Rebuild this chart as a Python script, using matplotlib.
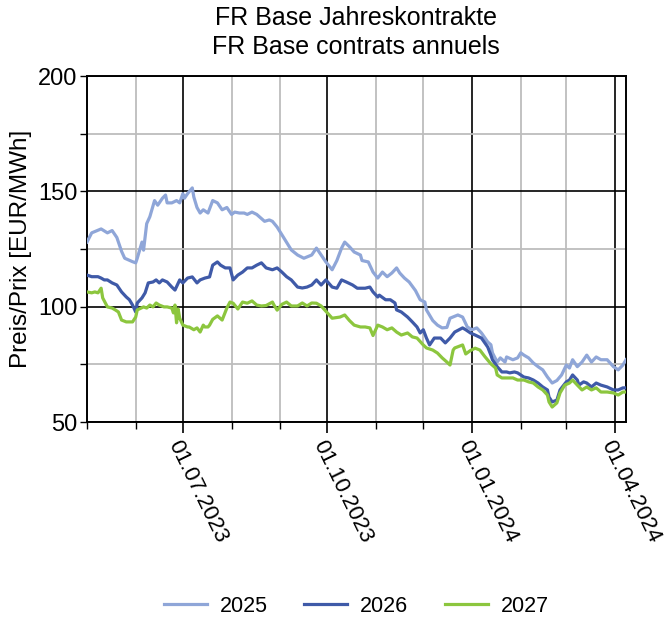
import matplotlib
matplotlib.use("Agg")
import matplotlib.pyplot as plt
import matplotlib.dates as mdates
import numpy as np
import datetime as dt

plt.rcParams['font.family'] = ['Liberation Sans', 'DejaVu Sans']

# --- data (dates, EUR/MWh) ---
d2025 = ["2023-05-01", "2023-05-04", "2023-05-10", "2023-05-14", "2023-05-17", "2023-05-20",
         "2023-05-23", "2023-05-25", "2023-05-30", "2023-06-01", "2023-06-02", "2023-06-05",
         "2023-06-06", "2023-06-08", "2023-06-10", "2023-06-13", "2023-06-15", "2023-06-18",
         "2023-06-20", "2023-06-21", "2023-06-24", "2023-06-27", "2023-06-29", "2023-07-01",
         "2023-07-02", "2023-07-04", "2023-07-07", "2023-07-08", "2023-07-10", "2023-07-12",
         "2023-07-14", "2023-07-17", "2023-07-20", "2023-07-23", "2023-07-26", "2023-07-29",
         "2023-08-01", "2023-08-03", "2023-08-06", "2023-08-09", "2023-08-11", "2023-08-14",
         "2023-08-17", "2023-08-22", "2023-08-25", "2023-08-27", "2023-08-30", "2023-09-04",
         "2023-09-08", "2023-09-12", "2023-09-16", "2023-09-21", "2023-09-24", "2023-09-27",
         "2023-09-30", "2023-10-04", "2023-10-07", "2023-10-10", "2023-10-12", "2023-10-15",
         "2023-10-18", "2023-10-22", "2023-10-23", "2023-10-27", "2023-10-30", "2023-11-02",
         "2023-11-05", "2023-11-08", "2023-11-11", "2023-11-14", "2023-11-16", "2023-11-19",
         "2023-11-22", "2023-11-26", "2023-11-29", "2023-12-02", "2023-12-03", "2023-12-07",
         "2023-12-10", "2023-12-13", "2023-12-16", "2023-12-18", "2023-12-23", "2023-12-26",
         "2023-12-29", "2024-01-01", "2024-01-04", "2024-01-07", "2024-01-11", "2024-01-13",
         "2024-01-14", "2024-01-17", "2024-01-19", "2024-01-22", "2024-01-23", "2024-01-27",
         "2024-01-30", "2024-02-01", "2024-02-03", "2024-02-06", "2024-02-09", "2024-02-12",
         "2024-02-15", "2024-02-18", "2024-02-21", "2024-02-24", "2024-02-27", "2024-03-01",
         "2024-03-03", "2024-03-05", "2024-03-08", "2024-03-11", "2024-03-14", "2024-03-17",
         "2024-03-20", "2024-03-23", "2024-03-27", "2024-03-31", "2024-04-03", "2024-04-06",
         "2024-04-08"]
v2025 = [128, 132, 133.7, 132, 133, 130,
         124, 121, 119.5, 119, 121, 128,
         124.5, 136, 139, 146, 144, 147,
         148.4, 145, 145, 146, 145, 149,
         147, 149, 151.5, 147.5, 143, 140.6,
         142, 140.6, 146, 145, 142, 143,
         140, 141, 140.6, 140.6, 140, 141,
         140, 137, 137.6, 137, 134.5, 129,
         124.6, 122.4, 121, 122.4, 125.4, 122.4,
         119.4, 116, 120, 125.4, 128, 126,
         123.7, 122.4, 120, 119.4, 115, 112.4,
         115, 113, 114.6, 116.8, 114.6, 112.4,
         110.7, 107, 103, 102, 98.6, 94,
         92, 90.8, 91, 95, 96.4, 95.5,
         91.2, 90, 90.8, 88.6, 84.7, 83.5,
         80, 76, 77.8, 76, 78.2, 77,
         77.8, 80, 79, 77.8, 75.6, 74,
         72.6, 69.5, 66.9, 68, 70.4, 74.7,
         73.4, 77, 74, 76, 79, 76,
         78.2, 77, 77, 74, 72.6, 74.7,
         77]

d2026 = ["2023-05-01", "2023-05-04", "2023-05-08", "2023-05-10", "2023-05-12", "2023-05-14",
         "2023-05-17", "2023-05-20", "2023-05-23", "2023-05-26", "2023-05-28", "2023-05-30",
         "2023-06-01", "2023-06-02", "2023-06-05", "2023-06-07", "2023-06-09", "2023-06-12",
         "2023-06-14", "2023-06-16", "2023-06-18", "2023-06-21", "2023-06-24", "2023-06-26",
         "2023-06-29", "2023-07-01", "2023-07-04", "2023-07-07", "2023-07-10", "2023-07-12",
         "2023-07-15", "2023-07-18", "2023-07-20", "2023-07-23", "2023-07-25", "2023-07-28",
         "2023-07-31", "2023-08-02", "2023-08-05", "2023-08-08", "2023-08-11", "2023-08-14",
         "2023-08-17", "2023-08-20", "2023-08-23", "2023-08-27", "2023-08-30", "2023-09-02",
         "2023-09-05", "2023-09-08", "2023-09-12", "2023-09-15", "2023-09-18", "2023-09-21",
         "2023-09-24", "2023-09-27", "2023-09-30", "2023-10-04", "2023-10-07", "2023-10-10",
         "2023-10-13", "2023-10-17", "2023-10-20", "2023-10-22", "2023-10-25", "2023-10-28",
         "2023-10-30", "2023-11-02", "2023-11-03", "2023-11-07", "2023-11-10", "2023-11-13",
         "2023-11-14", "2023-11-17", "2023-11-21", "2023-11-24", "2023-11-27", "2023-11-29",
         "2023-12-01", "2023-12-03", "2023-12-05", "2023-12-08", "2023-12-12", "2023-12-15",
         "2023-12-18", "2023-12-21", "2023-12-26", "2023-12-28", "2023-12-31", "2024-01-03",
         "2024-01-07", "2024-01-11", "2024-01-13", "2024-01-14", "2024-01-17", "2024-01-20",
         "2024-01-23", "2024-01-25", "2024-01-28", "2024-01-30", "2024-02-03", "2024-02-06",
         "2024-02-09", "2024-02-12", "2024-02-15", "2024-02-18", "2024-02-19", "2024-02-21",
         "2024-02-24", "2024-02-26", "2024-02-27", "2024-03-01", "2024-03-03", "2024-03-05",
         "2024-03-08", "2024-03-09", "2024-03-12", "2024-03-14", "2024-03-17", "2024-03-20",
         "2024-03-23", "2024-03-27", "2024-03-31", "2024-04-03", "2024-04-06", "2024-04-08"]
v2026 = [113.7, 113, 113, 112.4, 111.6, 111.6,
         110.3, 109.4, 106.4, 104.2, 103, 100.7,
         97.7, 101.6, 103.8, 106, 110.3, 110.7,
         111.6, 110.3, 111.6, 110.7, 108.5, 107.2,
         111.6, 110.3, 112.4, 112.9, 110.3, 111.6,
         112.4, 112.9, 118, 119.4, 118, 116.8,
         116.8, 111.6, 113.7, 115, 116.8, 116.8,
         118, 119, 116.8, 116, 116.8, 115,
         113, 111.6, 108.5, 108.1, 108.5, 109.4,
         111.6, 109.4, 111.6, 108.5, 108, 111.6,
         110.7, 109.4, 108, 108, 108, 108.5,
         106.4, 104.2, 105, 103, 103, 101.6,
         98.6, 97.7, 95.5, 93.4, 91.2, 88.6,
         90, 86.4, 83.4, 86.4, 86.4, 84.3,
         86.4, 89, 90.8, 90, 88.6, 87.7,
         86.4, 82.5, 79, 77, 74, 71.7,
         71.7, 71.3, 71.7, 71.3, 69.5, 69.1,
         68.2, 66.9, 65.2, 63.9, 60.8, 58.7,
         59.5, 63.9, 64.8, 67.4, 68.2, 70.4,
         68.2, 66, 67.4, 66.9, 65.2, 66.9,
         66, 65.2, 63.9, 63.9, 64.8, 64.8]

d2027 = ["2023-05-01", "2023-05-04", "2023-05-06", "2023-05-08", "2023-05-10", "2023-05-11",
         "2023-05-14", "2023-05-17", "2023-05-19", "2023-05-21", "2023-05-23", "2023-05-26",
         "2023-05-30", "2023-06-01", "2023-06-02", "2023-06-06", "2023-06-08", "2023-06-10",
         "2023-06-12", "2023-06-14", "2023-06-16", "2023-06-19", "2023-06-21", "2023-06-24",
         "2023-06-25", "2023-06-26", "2023-06-27", "2023-06-28", "2023-06-29", "2023-07-01",
         "2023-07-04", "2023-07-05", "2023-07-08", "2023-07-10", "2023-07-12", "2023-07-14",
         "2023-07-15", "2023-07-17", "2023-07-18", "2023-07-20", "2023-07-23", "2023-07-26",
         "2023-07-28", "2023-07-29", "2023-07-31", "2023-08-02", "2023-08-05", "2023-08-08",
         "2023-08-11", "2023-08-14", "2023-08-17", "2023-08-20", "2023-08-23", "2023-08-27",
         "2023-08-28", "2023-08-30", "2023-09-02", "2023-09-05", "2023-09-08", "2023-09-12",
         "2023-09-15", "2023-09-18", "2023-09-21", "2023-09-24", "2023-09-27", "2023-09-30",
         "2023-10-04", "2023-10-09", "2023-10-12", "2023-10-15", "2023-10-18", "2023-10-22",
         "2023-10-25", "2023-10-28", "2023-10-30", "2023-11-02", "2023-11-05", "2023-11-08",
         "2023-11-11", "2023-11-14", "2023-11-17", "2023-11-21", "2023-11-24", "2023-11-27",
         "2023-12-01", "2023-12-03", "2023-12-07", "2023-12-10", "2023-12-13", "2023-12-16",
         "2023-12-18", "2023-12-20", "2023-12-21", "2023-12-26", "2023-12-28", "2023-12-31",
         "2024-01-03", "2024-01-06", "2024-01-09", "2024-01-13", "2024-01-16", "2024-01-17",
         "2024-01-20", "2024-01-23", "2024-01-27", "2024-01-30", "2024-02-03", "2024-02-06",
         "2024-02-09", "2024-02-12", "2024-02-15", "2024-02-18", "2024-02-19", "2024-02-21",
         "2024-02-24", "2024-02-26", "2024-02-29", "2024-03-03", "2024-03-05", "2024-03-08",
         "2024-03-11", "2024-03-14", "2024-03-17", "2024-03-20", "2024-03-23", "2024-03-27",
         "2024-03-31", "2024-04-03", "2024-04-06", "2024-04-08"]
v2027 = [106.4, 106, 106.4, 106, 108, 103.8,
         99.9, 99.4, 98.6, 97.7, 94.2, 93.4,
         93.4, 95.5, 98.6, 99.9, 99.4, 100.7,
         99.9, 101.6, 100.7, 99.9, 99.9, 99.4,
         97.3, 100.7, 93, 99, 95, 92,
         91.2, 91.2, 90, 90.8, 89, 92,
         91.2, 91.2, 92, 94.5, 96, 94.2,
         97.7, 99.4, 102, 101.5, 99, 102,
         101.5, 102.5, 100.7, 100.3, 100.5, 102,
         100.7, 98.5, 101, 102, 100.3, 100.3,
         101.6, 100.3, 101.6, 101.5, 100.3, 98,
         95, 95.5, 96.4, 94, 92, 91.2,
         91.2, 90.8, 87.5, 92, 91.2, 90,
         90.8, 89, 87.7, 88.6, 86.9, 86.4,
         83.4, 82.1, 81.2, 79.9, 77.8, 76,
         74.7, 81.2, 82.1, 83.4, 79.5, 81,
         82, 81.2, 78.5, 75.2, 73.4, 70.4,
         69.1, 69.1, 69.1, 68.2, 68.2, 67.4,
         66.9, 65.2, 63.9, 61.7, 58.7, 56.5,
         58.3, 62.6, 66, 66.9, 68.2, 66,
         63.9, 65.2, 63.9, 64.8, 63, 63,
         62.6, 61.7, 63, 63]

series = [("2025", d2025, v2025, "#8fa6d8"),
          ("2026", d2026, v2026, "#3f5aa8"),
          ("2027", d2027, v2027, "#8cc63e")]

fig = plt.figure(figsize=(6.66, 6.24), dpi=100)
ax = fig.add_axes([0.1306, 0.3237, 0.8094, 0.5545])

for name, d, v, c in series:
    x = [dt.datetime.strptime(s, "%Y-%m-%d") for s in d]
    ax.plot(x, v, color=c, lw=2.3, label=name, zorder=3)

ax.set_xlim(dt.datetime(2023, 5, 1), dt.datetime(2024, 4, 8))
ax.set_ylim(50, 200)

ax.xaxis.set_major_locator(mdates.MonthLocator(bymonth=[1, 4, 7, 10]))
ax.xaxis.set_minor_locator(mdates.MonthLocator())
ax.xaxis.set_major_formatter(mdates.DateFormatter("%d.%m.%Y"))
ax.yaxis.set_major_locator(plt.MultipleLocator(50))
ax.yaxis.set_minor_locator(plt.MultipleLocator(25))

ax.grid(which="minor", color="#bdbdbd", lw=1.3, zorder=1)
ax.grid(which="major", color="black", lw=1.2, zorder=2)
ax.set_axisbelow(True)

ax.tick_params(axis="x", which="major", length=8, width=1.2, labelsize=16, pad=3)
ax.tick_params(axis="x", which="minor", length=5, width=1.0)
ax.tick_params(axis="y", which="both", length=5, width=1.0, labelsize=17, pad=2)
for lbl in ax.get_xticklabels():
    lbl.set_rotation(-64)
    lbl.set_ha("left")
    lbl.set_va("top")
    lbl.set_rotation_mode("anchor")

for sp in ax.spines.values():
    sp.set_linewidth(1.4)

ax.set_ylabel("Preis/Prix [EUR/MWh]", fontsize=17.5, labelpad=4)
fig.text(0.535, 0.99, "FR Base Jahreskontrakte\nFR Base contrats annuels",
         ha="center", va="top", fontsize=18, linespacing=1.25)

fig.legend(loc="center", bbox_to_anchor=(0.535, 0.028), ncol=3, frameon=False,
           fontsize=15.5, handlelength=2.0, columnspacing=1.7, handletextpad=0.6)

fig.savefig("out.png", dpi=100)
